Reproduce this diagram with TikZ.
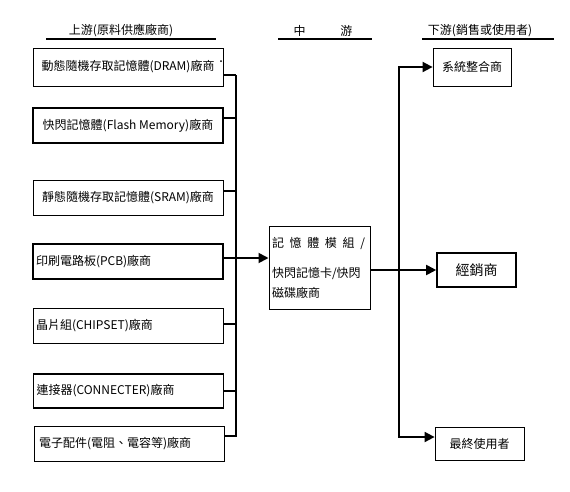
\documentclass[tikz,border=0pt]{standalone}
\usepackage{fontspec}
\setmainfont{Noto Sans CJK TC}
\usepackage{tikz}
\usetikzlibrary{shapes,arrows,arrows.meta,positioning}

\begin{document}
\begin{tikzpicture}[x=1pt, y=-1pt, font=\fontsize{12}{14}\selectfont]
    \tikzstyle{box} = [rectangle, draw, line width=0.8pt, minimum width=190pt, minimum height=35pt, inner sep=2pt, text centered]
    \tikzstyle{lbox} = [box, text width=184pt, align=left]
    \tikzstyle{heavy} = [line width=1.6pt]
    \tikzstyle{rule} = [line width=2pt]
    \tikzstyle{bus} = [line width=1.6pt]
    \tikzstyle{arrow} = [line width=1.8pt,->,>={Triangle[length=10pt,width=10pt]}]

    \useasboundingbox (0,0) rectangle (570,491);

    % headers
    \node (up) at (121,31) {上游(原料供應廠商)};
    \node (mid head) at (323,31) {中\hspace{35pt}游};
    \node (down) at (480,31) {下游(銷售或使用者)};
    \draw [rule] (46,39) -- (216,39);
    \draw [rule] (278,39) -- (372,39);
    \draw [rule] (422,39) -- (554,39);

    % upstream suppliers
    \node (dram) [box, minimum height=38pt] at (128,67) {動態隨機存取記憶體(DRAM)廠商};
    \node (flash) [box, heavy] at (128,125.5) {快閃記憶體(Flash Memory)廠商};
    \node (sram) [box] at (128,198) {靜態隨機存取記憶體(SRAM)廠商};
    \node (pcb) [lbox, heavy] at (128,261.5) {印刷電路板(PCB)廠商};
    \node (chip) [lbox] at (128,326) {晶片組(CHIPSET)廠商};
    \node (conn) [lbox, heavy, minimum height=34pt] at (128.5,391) {連接器(CONNECTER)廠商};
    \node (elec) [lbox, text width=180pt] at (129,443.5) {電子配件(電阻、電容等)廠商};
    \fill (221,61) circle (1pt);

    % midstream
    \node (module) [rectangle, draw, line width=1pt, minimum width=101pt, minimum height=83pt, text width=95pt, align=left, inner sep=3pt] at (319.5,267.5)
        {\makebox[93pt][s]{記\hfill 憶\hfill 體\hfill 模\hfill 組\hfill /}\\[16pt]快閃記憶卡/快閃\\[6pt]磁碟廠商};

    % downstream
    \node (si) [rectangle, draw, line width=0.8pt, minimum width=78pt, minimum height=38pt] at (472,67) {系統整合商};
    \node (dist) [rectangle, draw, heavy, minimum width=79pt, minimum height=34pt, font=\fontsize{14}{16}\selectfont] at (476.5,270) {經銷商};
    \node (user) [rectangle, draw, line width=0.8pt, minimum width=89pt, minimum height=33pt] at (479.5,443.5) {最終使用者};

    % bus on the left
    \coordinate (btop) at (236,75);
    \coordinate (bbot) at (236,437);
    \draw [bus] (btop) -- (bbot);
    \draw [bus] ([yshift=-8pt]dram.east) -- ([yshift=-8pt]dram.east -| btop);
    \draw [bus] ([yshift=7.5pt]flash.east) -- ([yshift=7.5pt]flash.east -| btop);
    \draw [bus] ([yshift=7pt]sram.east) -- ([yshift=7pt]sram.east -| btop);
    \draw [bus] ([yshift=2pt]chip.east) -- ([yshift=2pt]chip.east -| btop);
    \draw [bus] (conn.east) -- (conn.east -| btop);
    \draw [bus] ([yshift=7.5pt]elec.east) -- ([yshift=7.5pt]elec.east -| btop);
    \draw [arrow] ([yshift=3.5pt]pcb.east) -- ([yshift=3.5pt]pcb.east -| module.west);

    % bus on the right
    \coordinate (rtop) at (399,67);
    \coordinate (rbot) at (399,437);
    \draw [arrow] (rbot) -- (rtop) -- (si.west);
    \draw [arrow] (rtop) -- (rbot) -- (rbot -| user.west);
    \draw [arrow] ([yshift=-2.5pt]module.east) -- ([yshift=-2.5pt]module.east -| dist.west);
\end{tikzpicture}
\end{document}
